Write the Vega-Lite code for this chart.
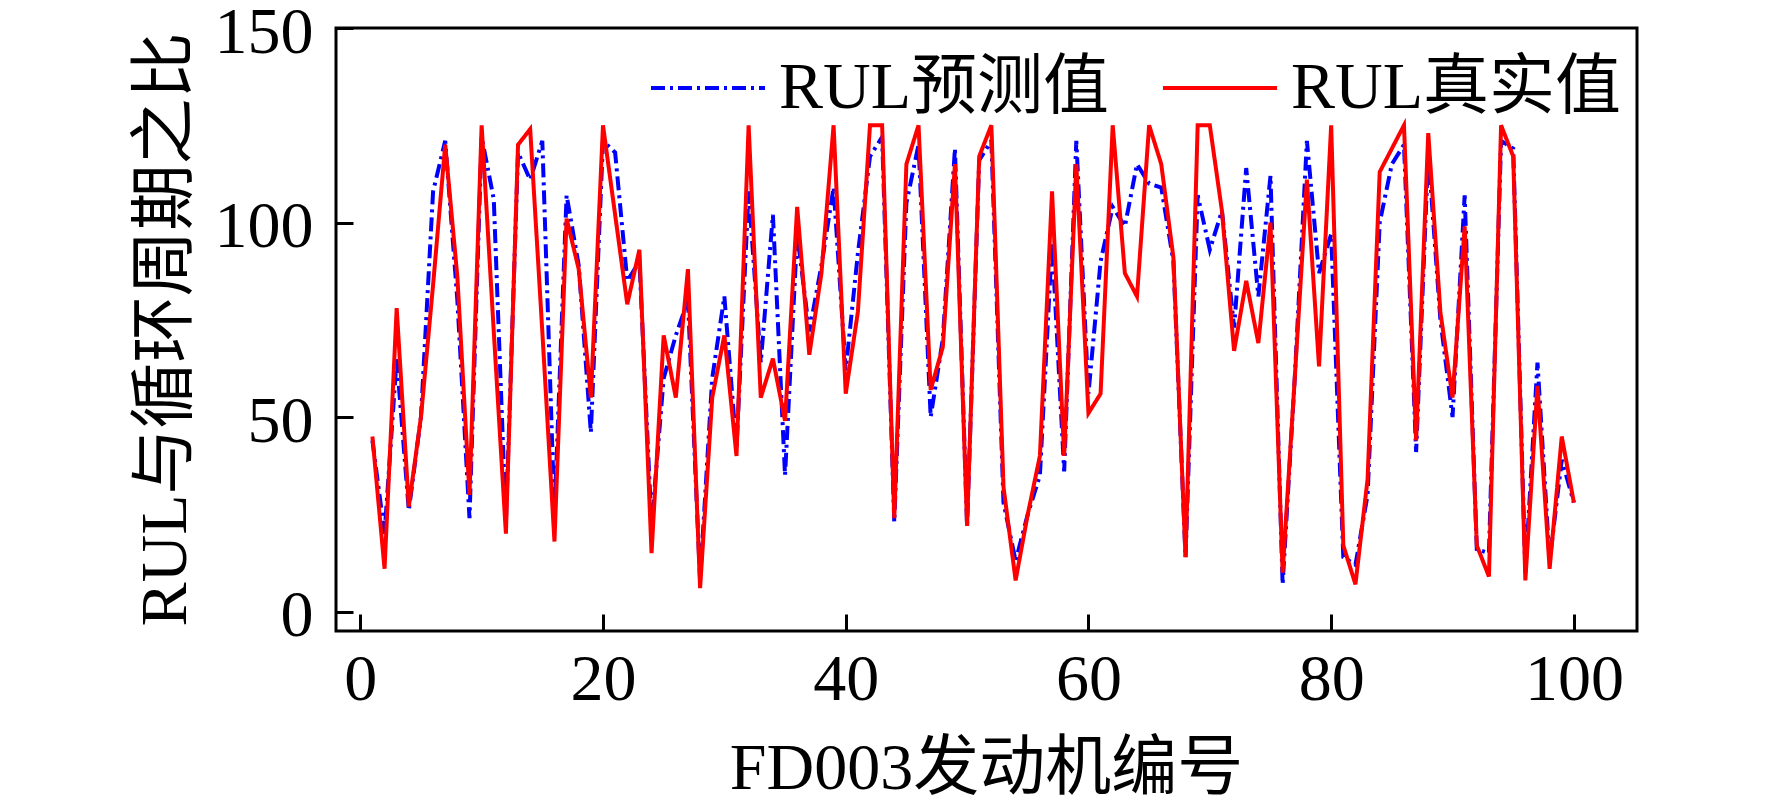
{
  "$schema": "https://vega.github.io/schema/vega-lite/v6.json",
  "width": 1301,
  "height": 603,
  "autosize": {"type": "none"},
  "padding": {"left": 336, "top": 28, "right": 135, "bottom": 172},
  "background": "white",
  "config": {
    "font": "Liberation Serif, Noto Sans CJK SC",
    "view": {"stroke": "black", "strokeWidth": 3},
    "axis": {
      "grid": false,
      "domain": false,
      "ticks": true,
      "tickColor": "black",
      "tickWidth": 3,
      "tickSize": -17,
      "labelFont": "Liberation Serif, Noto Sans CJK SC",
      "labelFontSize": 66,
      "labelColor": "black",
      "titleFont": "Liberation Serif, Noto Sans CJK SC",
      "titleFontSize": 66,
      "titleFontWeight": "normal",
      "titleColor": "black"
    }
  },
  "data": {
    "values": [
      {"编号": 1, "RUL预测值": 44, "RUL真实值": 45},
      {"编号": 2, "RUL预测值": 20, "RUL真实值": 11},
      {"编号": 3, "RUL预测值": 65, "RUL真实值": 78},
      {"编号": 4, "RUL预测值": 26, "RUL真实值": 27},
      {"编号": 5, "RUL预测值": 50, "RUL真实值": 50},
      {"编号": 6, "RUL预测值": 108, "RUL真实值": 84},
      {"编号": 7, "RUL预测值": 121, "RUL真实值": 120},
      {"编号": 8, "RUL预测值": 80, "RUL真实值": 86},
      {"编号": 9, "RUL预测值": 24, "RUL真实值": 30},
      {"编号": 10, "RUL预测值": 122, "RUL真实值": 125},
      {"编号": 11, "RUL预测值": 106, "RUL真实值": 72},
      {"编号": 12, "RUL预测值": 23, "RUL真实值": 20},
      {"编号": 13, "RUL预测值": 118, "RUL真实值": 120},
      {"编号": 14, "RUL预测值": 111, "RUL真实值": 124},
      {"编号": 15, "RUL预测值": 121, "RUL真实值": 72},
      {"编号": 16, "RUL预测值": 25, "RUL真实值": 18},
      {"编号": 17, "RUL预测值": 107, "RUL真实值": 101},
      {"编号": 18, "RUL预测值": 89, "RUL真实值": 88},
      {"编号": 19, "RUL预测值": 46, "RUL真实值": 55},
      {"编号": 20, "RUL预测值": 121, "RUL真实值": 125},
      {"编号": 21, "RUL预测值": 118, "RUL真实值": 102},
      {"编号": 22, "RUL预测值": 85, "RUL真实值": 79},
      {"编号": 23, "RUL预测值": 90, "RUL真实值": 93},
      {"编号": 24, "RUL预测值": 22, "RUL真实值": 15},
      {"编号": 25, "RUL预测值": 60, "RUL真实值": 71},
      {"编号": 26, "RUL预测值": 71, "RUL真实值": 55},
      {"编号": 27, "RUL预测值": 80, "RUL真实值": 88},
      {"编号": 28, "RUL预测值": 8, "RUL真实值": 6},
      {"编号": 29, "RUL预测值": 60, "RUL真实值": 55},
      {"编号": 30, "RUL预测值": 81, "RUL真实值": 71},
      {"编号": 31, "RUL预测值": 42, "RUL真实值": 40},
      {"编号": 32, "RUL预测值": 108, "RUL真实值": 125},
      {"编号": 33, "RUL预测值": 64, "RUL真实值": 55},
      {"编号": 34, "RUL预测值": 102, "RUL真实值": 65},
      {"编号": 35, "RUL预测值": 35, "RUL真实值": 49},
      {"编号": 36, "RUL预测值": 97, "RUL真实值": 104},
      {"编号": 37, "RUL预测值": 72, "RUL真实值": 66},
      {"编号": 38, "RUL预测值": 89, "RUL真实值": 87},
      {"编号": 39, "RUL预测值": 109, "RUL真实值": 125},
      {"编号": 40, "RUL预测值": 62, "RUL真实值": 56},
      {"编号": 41, "RUL预测值": 92, "RUL真实值": 77},
      {"编号": 42, "RUL预测值": 117, "RUL真实值": 125},
      {"编号": 43, "RUL预测值": 122, "RUL真实值": 125},
      {"编号": 44, "RUL预测值": 23, "RUL真实值": 24},
      {"编号": 45, "RUL预测值": 105, "RUL真实值": 115},
      {"编号": 46, "RUL预测值": 120, "RUL真实值": 125},
      {"编号": 47, "RUL预测值": 50, "RUL真实值": 57},
      {"编号": 48, "RUL预测值": 70, "RUL真实值": 68},
      {"编号": 49, "RUL预测值": 119, "RUL真实值": 115},
      {"编号": 50, "RUL预测值": 22, "RUL真实值": 22},
      {"编号": 51, "RUL预测值": 116, "RUL真实值": 117},
      {"编号": 52, "RUL预测值": 121, "RUL真实值": 125},
      {"编号": 53, "RUL预测值": 28, "RUL真实值": 32},
      {"编号": 54, "RUL预测值": 13, "RUL真实值": 8},
      {"编号": 55, "RUL预测值": 25, "RUL真实值": 25},
      {"编号": 56, "RUL预测值": 35, "RUL真实值": 40},
      {"编号": 57, "RUL预测值": 95, "RUL真实值": 108},
      {"编号": 58, "RUL预测值": 36, "RUL真实值": 40},
      {"编号": 59, "RUL预测值": 121, "RUL真实值": 115},
      {"编号": 60, "RUL预测值": 56, "RUL真实值": 51},
      {"编号": 61, "RUL预测值": 90, "RUL真实值": 56},
      {"编号": 62, "RUL预测值": 104, "RUL真实值": 125},
      {"编号": 63, "RUL预测值": 99, "RUL真实值": 87},
      {"编号": 64, "RUL预测值": 115, "RUL真实值": 81},
      {"编号": 65, "RUL预测值": 110, "RUL真实值": 125},
      {"编号": 66, "RUL预测值": 109, "RUL真实值": 115},
      {"编号": 67, "RUL预测值": 90, "RUL真实值": 91},
      {"编号": 68, "RUL预测值": 14, "RUL真实值": 14},
      {"编号": 69, "RUL预测值": 107, "RUL真实值": 125},
      {"编号": 70, "RUL预测值": 93, "RUL真实值": 125},
      {"编号": 71, "RUL预测值": 103, "RUL真实值": 103},
      {"编号": 72, "RUL预测值": 73, "RUL真实值": 67},
      {"编号": 73, "RUL预测值": 114, "RUL真实值": 85},
      {"编号": 74, "RUL预测值": 81, "RUL真实值": 69},
      {"编号": 75, "RUL预测值": 112, "RUL真实值": 100},
      {"编号": 76, "RUL预测值": 7, "RUL真实值": 10},
      {"编号": 77, "RUL预测值": 60, "RUL真实值": 60},
      {"编号": 78, "RUL预测值": 121, "RUL真实值": 111},
      {"编号": 79, "RUL预测值": 87, "RUL真实值": 63},
      {"编号": 80, "RUL预测值": 97, "RUL真实值": 125},
      {"编号": 81, "RUL预测值": 14, "RUL真实值": 17},
      {"编号": 82, "RUL预测值": 12, "RUL真实值": 7},
      {"编号": 83, "RUL预测值": 30, "RUL真实值": 34},
      {"编号": 84, "RUL预测值": 100, "RUL真实值": 113},
      {"编号": 85, "RUL预测值": 115, "RUL真实值": 119},
      {"编号": 86, "RUL预测值": 120, "RUL真实值": 125},
      {"编号": 87, "RUL预测值": 41, "RUL真实值": 44},
      {"编号": 88, "RUL预测值": 118, "RUL真实值": 123},
      {"编号": 89, "RUL预测值": 75, "RUL真实值": 77},
      {"编号": 90, "RUL预测值": 50, "RUL真实值": 55},
      {"编号": 91, "RUL预测值": 107, "RUL真实值": 99},
      {"编号": 92, "RUL预测值": 16, "RUL真实值": 17},
      {"编号": 93, "RUL预测值": 15, "RUL真实值": 9},
      {"编号": 94, "RUL预测值": 121, "RUL真实值": 125},
      {"编号": 95, "RUL预测值": 119, "RUL真实值": 117},
      {"编号": 96, "RUL预测值": 10, "RUL真实值": 8},
      {"编号": 97, "RUL预测值": 64, "RUL真实值": 58},
      {"编号": 98, "RUL预测值": 13, "RUL真实值": 11},
      {"编号": 99, "RUL预测值": 39, "RUL真实值": 45},
      {"编号": 100, "RUL预测值": 28, "RUL真实值": 28}
    ]
  },
  "transform": [
    {"fold": ["RUL预测值", "RUL真实值"], "as": ["类别", "值"]}
  ],
  "mark": {"type": "line", "strokeWidth": 4},
  "encoding": {
    "x": {
      "field": "编号",
      "type": "quantitative",
      "scale": {"domain": [-2, 105.2], "nice": false, "zero": false},
      "axis": {
        "values": [0, 20, 40, 60, 80, 100],
        "title": "FD003发动机编号",
        "labelPadding": 33,
        "titleX": 650,
        "titleY": 137,
        "titleBaseline": "middle",
        "titleAlign": "center"
      }
    },
    "y": {
      "field": "值",
      "type": "quantitative",
      "scale": {"domain": [-5, 150], "nice": false, "zero": false},
      "axis": {
        "values": [0, 50, 100, 150],
        "title": "RUL与循环周期之比",
        "labelPadding": 40,
        "labelOffset": 4,
        "titleX": -171,
        "titleY": 301,
        "titleAngle": -90,
        "titleBaseline": "middle",
        "titleAlign": "center"
      }
    },
    "color": {
      "field": "类别",
      "type": "nominal",
      "scale": {"domain": ["RUL预测值", "RUL真实值"], "range": ["#0000ff", "#ff0000"]},
      "legend": {
        "orient": "none",
        "legendX": 313,
        "legendY": 1,
        "direction": "horizontal",
        "title": null,
        "padding": 0,
        "symbolType": "stroke",
        "symbolSize": 12996,
        "symbolStrokeWidth": 4,
        "labelFont": "Liberation Serif, Noto Sans CJK SC",
        "labelFontSize": 66,
        "labelColor": "black",
        "labelLimit": 600,
        "labelOffset": 12,
        "columnPadding": 46
      }
    },
    "strokeDash": {
      "field": "类别",
      "type": "nominal",
      "scale": {"domain": ["RUL预测值", "RUL真实值"], "range": [[14, 5, 3, 5], [1, 0]]}
    }
  }
}
